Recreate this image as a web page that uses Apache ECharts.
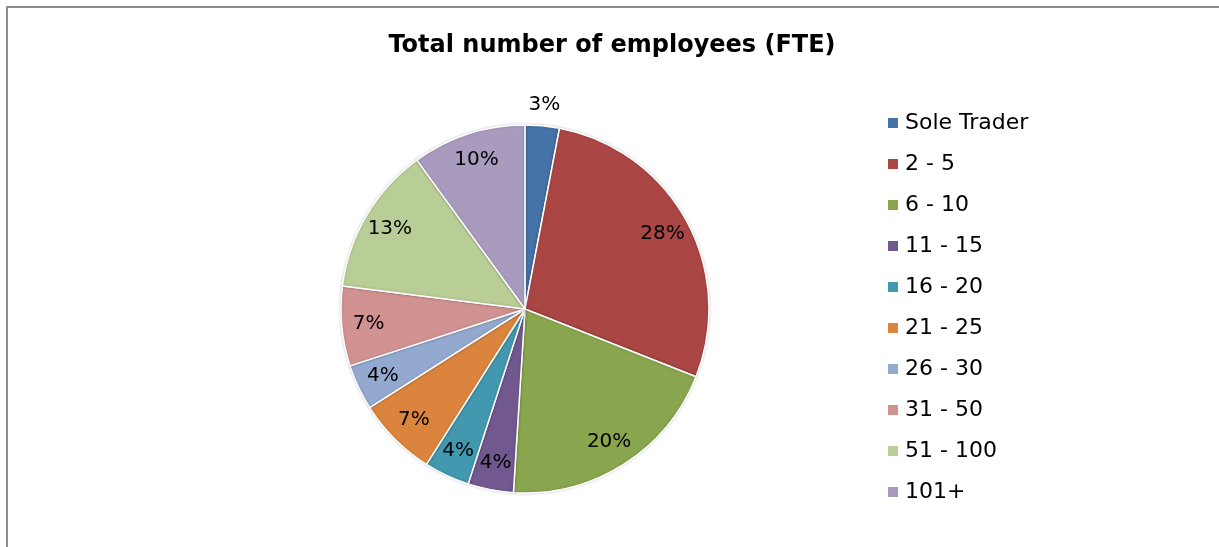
<!DOCTYPE html>
<html>
<head>
<meta charset="utf-8">
<script src="https://cdn.jsdelivr.net/npm/echarts@6/dist/echarts.min.js"></script>
<style>
  html, body { margin: 0; padding: 0; background: #fff; }
  #chart { width: 1219px; height: 547px; }
</style>
</head>
<body>
<div id="chart"></div>
<script>
// Employee headcount bands and their share of respondents (%)
const categories = ['Sole Trader', '2 - 5', '6 - 10', '11 - 15', '16 - 20', '21 - 25', '26 - 30', '31 - 50', '51 - 100', '101+'];
const shares = [3, 28, 20, 4, 4, 7, 4, 7, 13, 10];
const colors = ['#4572A7', '#AA4643', '#89A54E', '#71588F', '#4198AF', '#DB843D', '#93A9CF', '#D19392', '#B9CD96', '#A99BBD'];

const FONT = 'DejaVu Sans';
const CENTER = [525, 309];
const R = 184;

const pieData = categories.map((name, i) => ({ name, value: shares[i], itemStyle: { color: colors[i] } }));

// Transparent rings that only carry the percentage labels
const labelRing = (showFn) => categories.map((name, i) => ({
  name, value: shares[i],
  label: { show: showFn(i) }
}));

const chart = echarts.init(document.getElementById('chart'), null, { renderer: 'canvas' });
chart.setOption({
  animation: false,
  backgroundColor: '#fff',
  title: {
    text: 'Total number of employees (FTE)',
    left: 607, top: 29, textAlign: 'center',
    textStyle: { fontFamily: FONT, fontSize: 24, fontWeight: 'bold', color: '#000' }
  },
  legend: {
    orient: 'vertical',
    left: 886, top: 112, padding: 0,
    icon: 'rect', itemWidth: 12, itemHeight: 12, itemGap: 19,
    data: categories,
    textStyle: { fontFamily: FONT, fontSize: 22, color: '#000', lineHeight: 22, padding: [0, 0, 0, 1] }
  },
  graphic: [{
    type: 'rect', silent: true,
    shape: { x: 7, y: 7, width: 1240, height: 600 },
    style: { fill: 'none', stroke: '#8c8c8c', lineWidth: 2 }
  }],
  series: [
    {
      type: 'pie', center: CENTER, radius: [0, R],
      startAngle: 90, clockwise: true,
      label: { show: false }, labelLine: { show: false },
      itemStyle: { borderColor: '#fff', borderWidth: 1.5, shadowBlur: 3, shadowColor: 'rgba(0,0,0,0.18)' },
      emphasis: { disabled: true },
      data: pieData
    },
    {
      type: 'pie', center: CENTER, radius: [124, R], silent: true,
      startAngle: 90, clockwise: true, legendHoverLink: false,
      itemStyle: { color: 'rgba(0,0,0,0)' },
      label: { position: 'inside', formatter: '{c}%', fontFamily: FONT, fontSize: 20, color: '#000' },
      labelLine: { show: false },
      emphasis: { disabled: true },
      data: labelRing(i => i !== 0)
    },
    {
      type: 'pie', center: CENTER, radius: [R, 220], silent: true,
      startAngle: 90, clockwise: true, legendHoverLink: false,
      itemStyle: { color: 'rgba(0,0,0,0)' },
      label: { position: 'inside', formatter: '{c}%', fontFamily: FONT, fontSize: 20, color: '#000' },
      labelLine: { show: false },
      emphasis: { disabled: true },
      data: labelRing(i => i === 0)
    }
  ]
});
</script>
</body>
</html>
